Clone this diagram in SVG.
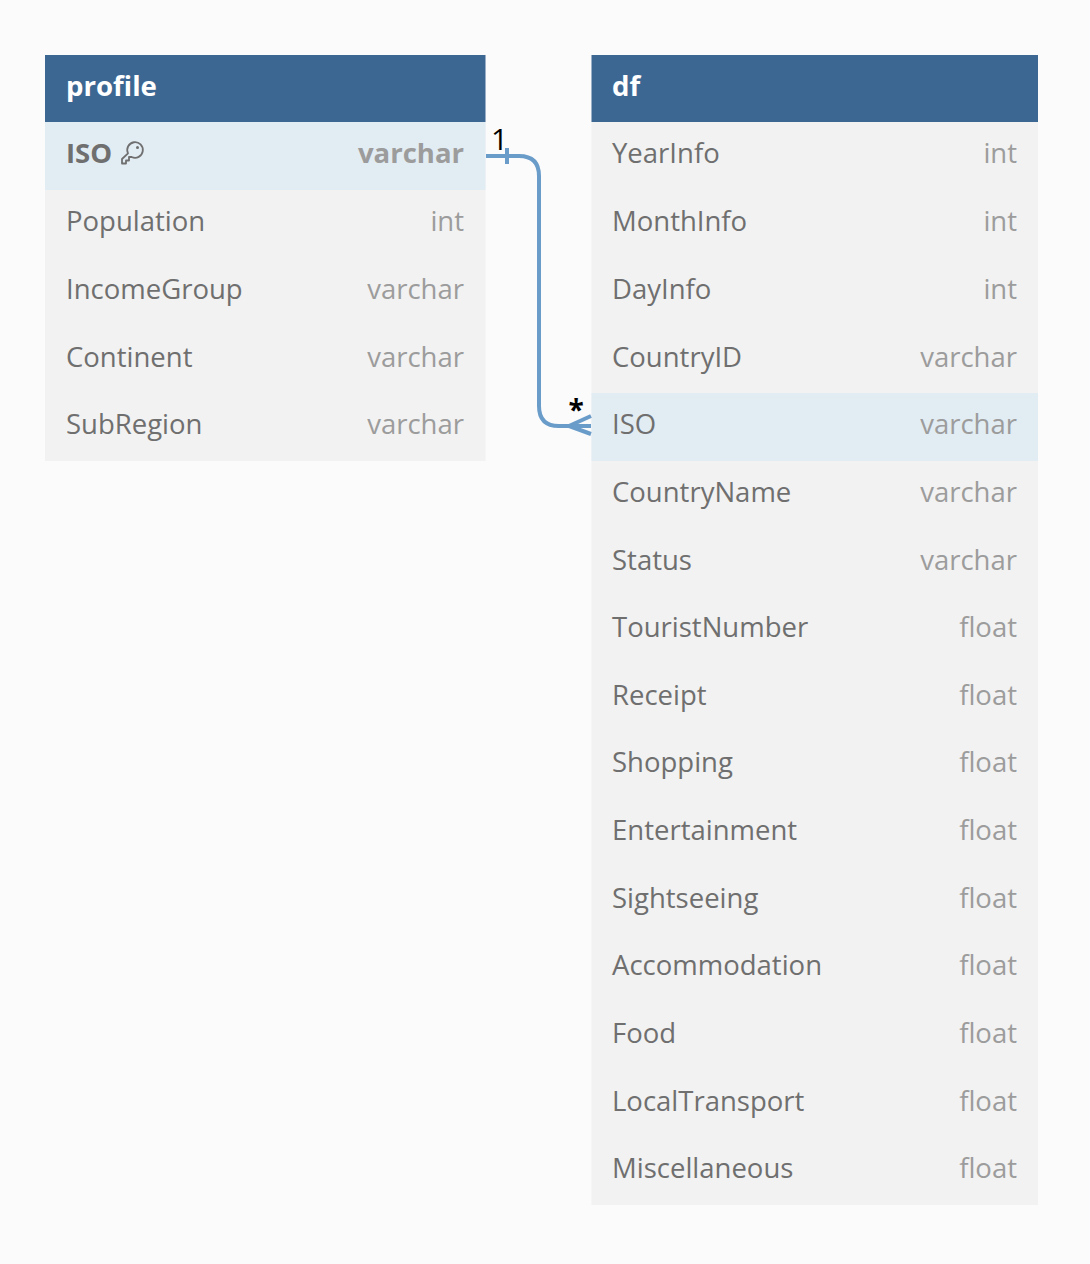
<svg xmlns="http://www.w3.org/2000/svg" width="1090" height="1264" viewBox="0 0 1090 1264">
<style>
text{font-family:"Open Sans","Noto Sans",sans-serif}
.h{fill:#3d6793}.r{fill:#f2f2f2}.k{fill:#e2ecf3}
.t{font-size:27.6px;font-weight:700;fill:#fff}
.n{font-size:27.5px;fill:#6f6f6f}
.y{font-size:27.5px;fill:#9c9c9c;text-anchor:end}
.b{font-weight:700}
.c{fill:none;stroke:#6a9cca;stroke-width:4}
.m{font-size:30px;fill:#000}
</style>
<rect width="1090" height="1264" fill="#fbfbfb"/>
<g id="profile">
<rect class="h" x="45" y="55" width="440.500" height="67"/>
<text class="t" x="66" y="96">profile</text>
<rect class="r" x="45" y="122" width="440.500" height="339"/>
<rect class="k" x="45" y="122" width="440.500" height="68"/>
<text class="n b" x="66" y="163">ISO</text>
<path d="M128 153.300A7.800 7.800 0 1 1 131.700 157H129V160.500H126V163.500H122V159Z" fill="none" stroke="#6f6f6f" stroke-width="1.800" stroke-linejoin="round"/>
<circle cx="137.500" cy="147.500" r="1.500" fill="#6f6f6f"/>
<text class="y b" x="464" y="163">varchar</text>
<text class="n" x="66" y="231">Population</text><text class="y" x="464" y="231">int</text>
<text class="n" x="66" y="299">IncomeGroup</text><text class="y" x="464" y="299">varchar</text>
<text class="n" x="66" y="367">Continent</text><text class="y" x="464" y="367">varchar</text>
<text class="n" x="66" y="434">SubRegion</text><text class="y" x="464" y="434">varchar</text>
</g>
<g id="df">
<rect class="h" x="591.500" y="55" width="446.500" height="67"/>
<text class="t" x="612" y="96">df</text>
<rect class="r" x="591.500" y="122" width="446.500" height="1083"/>
<rect class="k" x="591.500" y="393" width="446.500" height="68"/>
<text class="n" x="612" y="163">YearInfo</text><text class="y" x="1017" y="163">int</text>
<text class="n" x="612" y="231">MonthInfo</text><text class="y" x="1017" y="231">int</text>
<text class="n" x="612" y="299">DayInfo</text><text class="y" x="1017" y="299">int</text>
<text class="n" x="612" y="367">CountryID</text><text class="y" x="1017" y="367">varchar</text>
<text class="n" x="612" y="434">ISO</text><text class="y" x="1017" y="434">varchar</text>
<text class="n" x="612" y="502">CountryName</text><text class="y" x="1017" y="502">varchar</text>
<text class="n" x="612" y="570">Status</text><text class="y" x="1017" y="570">varchar</text>
<text class="n" x="612" y="637">TouristNumber</text><text class="y" x="1017" y="637">float</text>
<text class="n" x="612" y="705">Receipt</text><text class="y" x="1017" y="705">float</text>
<text class="n" x="612" y="772">Shopping</text><text class="y" x="1017" y="772">float</text>
<text class="n" x="612" y="840">Entertainment</text><text class="y" x="1017" y="840">float</text>
<text class="n" x="612" y="908">Sightseeing</text><text class="y" x="1017" y="908">float</text>
<text class="n" x="612" y="975">Accommodation</text><text class="y" x="1017" y="975">float</text>
<text class="n" x="612" y="1043">Food</text><text class="y" x="1017" y="1043">float</text>
<text class="n" x="612" y="1111">LocalTransport</text><text class="y" x="1017" y="1111">float</text>
<text class="n" x="612" y="1178">Miscellaneous</text><text class="y" x="1017" y="1178">float</text>
</g>
<g id="connectors">
<path class="c" d="M486 156H519Q539 156 539 176V406Q539 426 559 426H591"/>
<path class="c" d="M507 148V164"/>
<path class="c" d="M591 416L569 426L591 434"/>
<text class="m" x="491" y="150">1</text>
<text class="m" x="568.500" y="420" font-weight="700" style="font-size:28px">*</text>
</g>
</svg>
